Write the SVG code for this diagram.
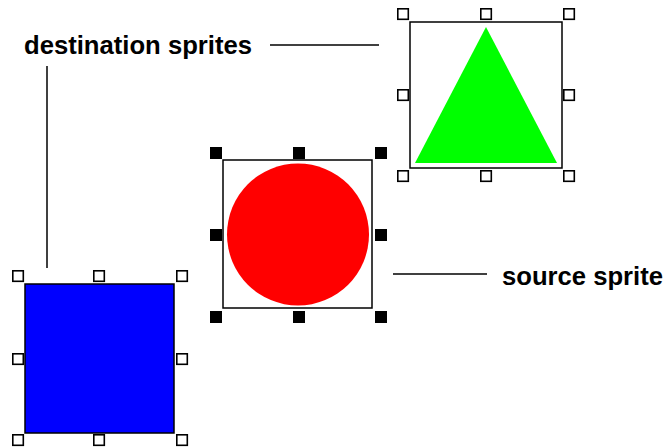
<svg xmlns="http://www.w3.org/2000/svg" xmlns:xlink="http://www.w3.org/1999/xlink" width="666" height="447" viewBox="0 0 666 447">
<style>
.frame{fill:none;stroke:#000;stroke-width:1.5}
.hw{fill:#fff;stroke:#000;stroke-width:1.6}
.hb{fill:#000}
.lbl{font-family:"Liberation Sans",Arial,sans-serif;font-weight:bold;font-size:26px;fill:#000}
.conn{stroke:#000;stroke-width:1.5;fill:none}
</style>
<defs>
<rect id="hw" class="hw" x="0.8" y="0.8" width="10.5" height="10.5"/>
<rect id="hb" class="hb" x="0" y="0" width="12" height="12"/>
</defs>
<rect width="666" height="447" fill="#fff"/>
<g id="connectors">
<line class="conn" x1="270" y1="45" x2="379" y2="45"/>
<line class="conn" x1="47" y1="66" x2="47" y2="268"/>
<line class="conn" x1="393" y1="274" x2="487" y2="274"/>
</g>
<g id="label-destination">
<text class="lbl" x="24" y="54" textLength="228" lengthAdjust="spacingAndGlyphs">destination sprites</text>
</g>
<g id="label-source">
<text class="lbl" x="502" y="285" textLength="161" lengthAdjust="spacingAndGlyphs">source sprite</text>
</g>
<g id="triangle-sprite">
<rect class="frame" x="410" y="22" width="152" height="146" fill="#fff"/>
<polygon points="486,27 557,163 415,163" fill="#00ff00"/>
<use xlink:href="#hw" x="397" y="8"/>
<use xlink:href="#hw" x="480" y="8"/>
<use xlink:href="#hw" x="563" y="8"/>
<use xlink:href="#hw" x="397" y="89"/>
<use xlink:href="#hw" x="563" y="89"/>
<use xlink:href="#hw" x="397" y="170"/>
<use xlink:href="#hw" x="480" y="170"/>
<use xlink:href="#hw" x="563" y="170"/>
</g>
<g id="circle-sprite">
<rect class="frame" x="223" y="160" width="149" height="148"/>
<circle cx="298" cy="234.5" r="71" fill="#ff0000"/>
<use xlink:href="#hb" x="210" y="147"/>
<use xlink:href="#hb" x="293" y="147"/>
<use xlink:href="#hb" x="375" y="147"/>
<use xlink:href="#hb" x="210" y="229"/>
<use xlink:href="#hb" x="375" y="229"/>
<use xlink:href="#hb" x="210" y="311"/>
<use xlink:href="#hb" x="293" y="311"/>
<use xlink:href="#hb" x="375" y="311"/>
</g>
<g id="square-sprite">
<rect x="25" y="284" width="149" height="149" fill="#0000ff" stroke="#000" stroke-width="1.5"/>
<use xlink:href="#hw" x="12" y="270"/>
<use xlink:href="#hw" x="93" y="270"/>
<use xlink:href="#hw" x="176" y="270"/>
<use xlink:href="#hw" x="12" y="353"/>
<use xlink:href="#hw" x="176" y="353"/>
<use xlink:href="#hw" x="12" y="434"/>
<use xlink:href="#hw" x="93" y="434"/>
<use xlink:href="#hw" x="176" y="434"/>
</g>
</svg>
